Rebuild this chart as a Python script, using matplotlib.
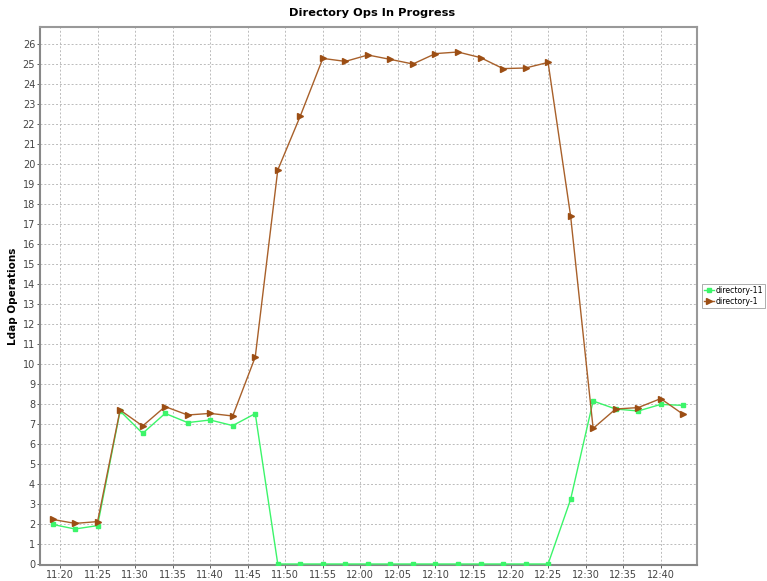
import pandas as pd
import matplotlib
matplotlib.use("Agg")
import matplotlib.pyplot as plt
import matplotlib.dates as mdates

# sample times (every 3 minutes)
times = ["11:19", "11:22", "11:25", "11:28", "11:31", "11:34", "11:37", "11:40",
         "11:43", "11:46", "11:49", "11:52", "11:55", "11:58", "12:01", "12:04",
         "12:07", "12:10", "12:13", "12:16", "12:19", "12:22", "12:25", "12:28",
         "12:31", "12:34", "12:37", "12:40", "12:43"]

directory_11 = [1.98, 1.75, 1.92, 7.65, 6.53, 7.53, 7.07, 7.2, 6.92, 7.52,
                0, 0, 0, 0, 0, 0, 0, 0, 0, 0, 0, 0, 0,
                3.23, 8.15, 7.75, 7.65, 7.98, 7.93]

directory_1 = [2.23, 2.03, 2.12, 7.7, 6.9, 7.87, 7.45, 7.53, 7.4, 10.35,
               19.7, 22.4, 25.28, 25.13, 25.45, 25.23, 25.0, 25.52, 25.6, 25.32,
               24.77, 24.8, 25.08, 17.4, 6.78, 7.75, 7.82, 8.27, 7.48]

x = pd.to_datetime(["2024-01-01 " + t for t in times])

fig = plt.figure(figsize=(7.67, 5.81), dpi=100)
ax = fig.add_axes([40 / 767, 16 / 581, 657 / 767, 538 / 581])

ax.plot(x, directory_11, color="#3CF56A", linewidth=1.0, marker="s", markersize=2.8,
        label="directory-11", zorder=3)
ax.plot(x, directory_1, color="#A8602A", linewidth=1.0, marker=">", markersize=4,
        markerfacecolor="#9C4E14", markeredgecolor="#9C4E14", label="directory-1", zorder=3)

# axis ranges
ax.set_xlim(pd.Timestamp("2024-01-01 11:17:20"), pd.Timestamp("2024-01-01 12:44:50"))
ax.set_ylim(-0.05, 26.85)
ax.set_yticks(range(0, 27))
ax.xaxis.set_major_locator(mdates.MinuteLocator(byminute=range(0, 60, 5)))
ax.xaxis.set_major_formatter(mdates.DateFormatter("%H:%M"))

ax.tick_params(labelsize=7, colors="#444444", length=2, width=0.6, pad=1.5)
ax.grid(True, color="#bbbbbb", linestyle=(0, (2, 2)), linewidth=0.7)
ax.set_axisbelow(True)

for side in ["top", "right"]:
    ax.spines[side].set_color("#999999")
    ax.spines[side].set_linewidth(1.5)
for side in ["left", "bottom"]:
    ax.spines[side].set_color("#888888")
    ax.spines[side].set_linewidth(1.5)

ax.set_ylabel("Ldap Operations", fontsize=7.5, fontweight="bold", labelpad=3)
fig.text(0.485, 0.977, "Directory Ops In Progress", ha="center", va="center",
         fontsize=8.2, fontweight="bold")

leg = ax.legend(loc="center left", bbox_to_anchor=(1.008, 0.5), fontsize=5.6,
                frameon=True, fancybox=False, edgecolor="#888888",
                handlelength=1.2, borderpad=0.25, labelspacing=0.25, handletextpad=0.25,
                borderaxespad=0.0)
leg.get_frame().set_linewidth(0.6)

plt.savefig("out.png", dpi=100)
